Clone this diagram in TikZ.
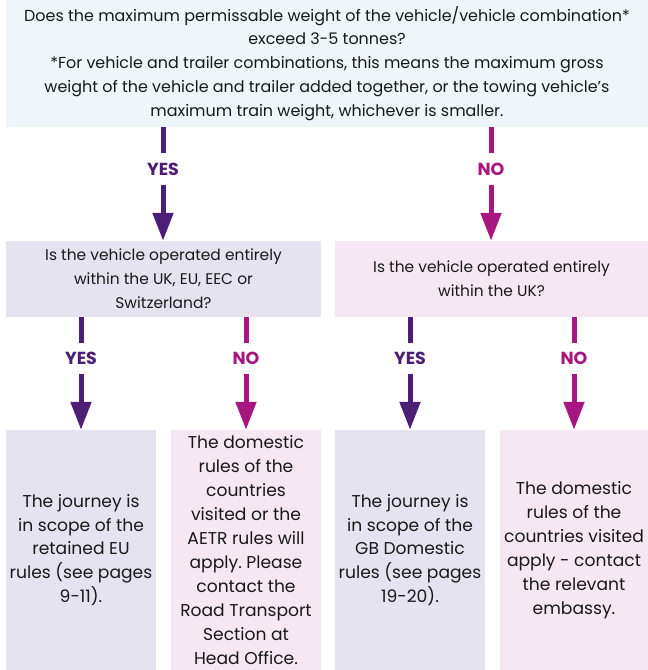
\documentclass[tikz,border=0pt]{standalone}
\usepackage{fontspec}
\setmainfont{Poppins}
\usetikzlibrary{arrows.meta}
\definecolor{yescol}{RGB}{76,30,118}
\definecolor{nocol}{RGB}{168,22,130}
\definecolor{topfill}{RGB}{238,246,249}
\definecolor{lavfill}{RGB}{230,227,240}
\definecolor{pinkfill}{RGB}{245,232,242}
\tikzset{
  box/.style={rectangle, inner sep=0pt, align=center, font=\frenchspacing\fontsize{15.5}{24}\selectfont, text=black!90},
  topbox/.style={box, font=\frenchspacing\fontsize{16}{24}\selectfont},
  resbox/.style={box, font=\frenchspacing\fontsize{17.2}{24}\selectfont},
  lbl/.style={rectangle, inner sep=0pt, minimum height=31bp, font=\bfseries\fontsize{17.5}{18}\selectfont},
  yesline/.style={draw=yescol, line width=5bp},
  noline/.style={draw=nocol, line width=5bp},
  yesarr/.style={yesline, -{Triangle[width=20bp,length=28bp]}, yescol},
  noarr/.style={noline, -{Triangle[width=20bp,length=28bp]}, nocol},
}
\begin{document}
\begin{tikzpicture}[x=1bp,y=-1bp]
\useasboundingbox (0,0) rectangle (648,670);
% boxes
\node[topbox, fill=topfill, minimum width=642bp, minimum height=127bp] (top) at (327,63.5)
  {Does the maximum permissable weight of the vehicle/vehicle combination*\\
   exceed 3-5 tonnes?\\
   *For vehicle and trailer combinations, this means the maximum gross\\
   weight of the vehicle and trailer added together, or the towing vehicle’s\\
   maximum train weight, whichever is smaller.};
\node[box, fill=lavfill, minimum width=315bp, minimum height=76bp] (q2l) at (163.5,279)
  {Is the vehicle operated entirely\\ within the UK, EU, EEC or\\ Switzerland?};
\node[box, fill=pinkfill, minimum width=313bp, minimum height=76bp] (q2r) at (491.5,279)
  {Is the vehicle operated entirely\\ within the UK?};
\node[resbox, fill=lavfill, minimum width=150bp, minimum height=240bp] (ra) at (81,550)
  {The journey is\\ in scope of the\\ retained EU\\ rules (see pages\\ 9-11).};
\node[resbox, fill=pinkfill, minimum width=150bp, minimum height=240bp] (rb) at (246,550)
  {The domestic\\ rules of the\\ countries\\ visited or the\\ AETR rules will\\ apply. Please\\ contact the\\ Road Transport\\ Section at\\ Head Office.};
\node[resbox, fill=lavfill, minimum width=150bp, minimum height=240bp] (rc) at (410,550)
  {The journey is\\ in scope of the\\ GB Domestic\\ rules (see pages\\ 19-20).};
\node[resbox, fill=pinkfill, minimum width=148bp, minimum height=240bp] (rd) at (574,550)
  {The domestic\\ rules of the\\ countries visited\\ apply - contact\\ the relevant\\ embassy.};
% labels
\node[lbl, text=yescol, minimum height=32bp] (y1) at (163,169) {YES};
\node[lbl, text=nocol, minimum height=32bp] (n1) at (491,169) {NO};
\node[lbl, text=yescol] (y2) at (81,358.5) {YES};
\node[lbl, text=nocol] (n2) at (246,358.5) {NO};
\node[lbl, text=yescol] (y3) at (410,358.5) {YES};
\node[lbl, text=nocol] (n3) at (574,358.5) {NO};
% connectors
\draw[yesline] (y1.north |- top.south) -- (y1.north);
\draw[yesarr] (y1.south) -- (y1.south |- q2l.north);
\draw[noline] (n1.north |- top.south) -- (n1.north);
\draw[noarr] (n1.south) -- (n1.south |- q2r.north);
\draw[yesline] (y2.north |- q2l.south) -- (y2.north);
\draw[yesarr] (y2.south) -- (y2.south |- ra.north);
\draw[noline] (n2.north |- q2l.south) -- (n2.north);
\draw[noarr] (n2.south) -- (n2.south |- rb.north);
\draw[yesline] (y3.north |- q2r.south) -- (y3.north);
\draw[yesarr] (y3.south) -- (y3.south |- rc.north);
\draw[noline] (n3.north |- q2r.south) -- (n3.north);
\draw[noarr] (n3.south) -- (n3.south |- rd.north);
\end{tikzpicture}
\end{document}
